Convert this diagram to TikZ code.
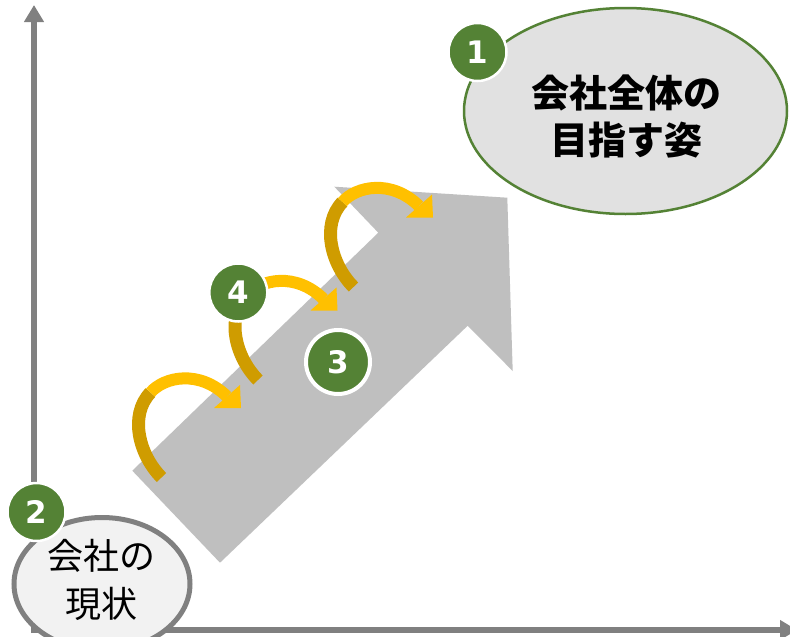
\documentclass[tikz,border=0pt]{standalone}
\usepackage{fontspec}
\newfontfamily\jp{Noto Sans CJK JP}
\newfontfamily\numf{DejaVu Sans}
\usetikzlibrary{arrows.meta,shapes.geometric}
\definecolor{axisgray}{HTML}{808080}
\definecolor{arrowgray}{HTML}{BFBFBF}
\definecolor{leaf}{HTML}{548235}
\definecolor{gold}{HTML}{FFC000}
\definecolor{darkgold}{HTML}{CF9C00}
\definecolor{goalfill}{HTML}{E1E1E1}
\definecolor{nowfill}{HTML}{F2F2F2}
\tikzset{
  axisline/.style={draw=axisgray, line width=5.5pt, -{Triangle[width=19pt,length=17pt]}},
  numcirc/.style={circle, fill=leaf, draw=white, line width=2.5pt, minimum size=58pt,
    inner sep=0pt, text=white, font=\numf\bfseries\fontsize{31}{31}\selectfont},
  darkband/.style={draw=darkgold, line width=13pt},
  brightband/.style={draw=gold, line width=12pt},
}
\begin{document}
\begin{tikzpicture}[x=1pt,y=-1pt]
\useasboundingbox[fill=white] (0,0) rectangle (790,637);
% axes
\coordinate (origin) at (34,630);
\coordinate (ytop) at (34,5);
\coordinate (xend) at (797,630);
\draw[axisline] ([yshift=-3pt]origin) -- (ytop);
\draw[axisline] ([xshift=-3pt]origin) -- (xend);
% big gray arrow
\fill[arrowgray] (132.3,470.7) -- (378.3,232.7) -- (334.3,186.7) -- (507.3,197.7)
  -- (512.7,371) -- (467.7,325.7) -- (220,562.7) -- cycle;
% jump arrows
\foreach \px/\py in {161.5/477.5, 258/380, 353.5/287} {
  \begin{scope}[shift={(\px,\py)}]
    \draw[darkband] (0,0) .. controls (-22,-22) and (-33,-62) .. (-11,-85);
    \draw[brightband] (-11,-85) .. controls (3,-101) and (38,-108) .. (65.5,-81);
    \fill[gold] (52.5,-69.5) -- (78.5,-92.5) -- (79.5,-69.5) -- cycle;
  \end{scope}
}
% current state
\node[ellipse, draw=axisgray, line width=5pt, fill=nowfill, minimum width=176pt,
  minimum height=133pt, inner sep=0pt] (now) at (102,584) {};
\node[font=\jp\fontsize{36}{48}\selectfont, align=center, inner sep=0pt] (nowtext) at (101,580) {会社の\\現状};
% goal
\node[ellipse, draw=leaf, line width=2.5pt, fill=goalfill, minimum width=323pt,
  minimum height=206pt, inner sep=0pt] (goal) at (625.5,111) {};
\node[font=\jp\bfseries\fontsize{38}{47}\selectfont, align=center, inner sep=0pt] (goaltext) at (626,116) {会社全体の\\目指す姿};
% numbers
\node[numcirc] (n1) at (477.5,52) {1};
\node[numcirc] (n2) at (36.5,512) {2};
\node[numcirc, minimum size=64pt, line width=4pt] (n3) at (338,362) {3};
\node[numcirc] (n4) at (238.3,292.5) {4};
\end{tikzpicture}
\end{document}
